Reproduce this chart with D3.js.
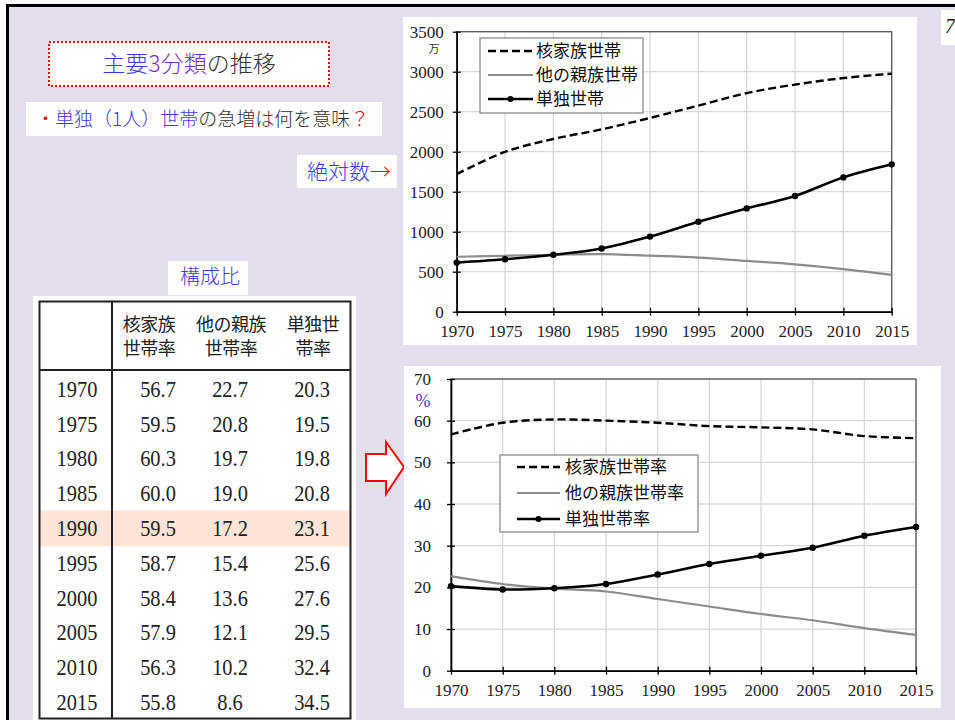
<!DOCTYPE html>
<html>
<head>
<meta charset="utf-8">
<script src="https://cdn.jsdelivr.net/npm/d3@7"></script>
<style>
  body { margin: 0; background: #fff; }
  svg text { font-family: "Noto Sans CJK JP", sans-serif; }
  svg text.num { font-family: "Liberation Serif", serif; }
</style>
</head>
<body>
<svg id="slide" width="955" height="720"></svg>
<script>
// data (万世帯 and %)
var years = [1970, 1975, 1980, 1985, 1990, 1995, 2000, 2005, 2010, 2015];
var nuclearAbs = [1719, 1998, 2159, 2280, 2422, 2576, 2733, 2839, 2921, 2975];
var otherAbs   = [687, 699, 712, 720, 700, 677, 635, 592, 533, 460];
var singleAbs  = [614, 656, 711, 790, 939, 1124, 1291, 1446, 1679, 1842];
var nuclearPct = [56.7, 59.5, 60.3, 60.0, 59.5, 58.7, 58.4, 57.9, 56.3, 55.8];
var otherPct   = [22.7, 20.8, 19.7, 19.0, 17.2, 15.4, 13.6, 12.1, 10.2, 8.6];
var singlePct  = [20.3, 19.5, 19.8, 20.8, 23.1, 25.6, 27.6, 29.5, 32.4, 34.5];
var absTicks = [0, 500, 1000, 1500, 2000, 2500, 3000, 3500];
var pctTicks = [0, 10, 20, 30, 40, 50, 60, 70];
var absNames = ["核家族世帯", "他の親族世帯", "単独世帯"];
var pctNames = ["核家族世帯率", "他の親族世帯率", "単独世帯率"];
var tableHeads = [["核家族", "世帯率"], ["他の親族", "世帯率"], ["単独世", "帯率"]];

var svg = d3.select("#slide");

// slide background + frame
svg.append("rect")
  .attr("x", 7.5).attr("y", 5.5)
  .attr("width", 960).attr("height", 730)
  .attr("fill", "#e4dfec")
  .attr("stroke", "#000")
  .attr("stroke-width", 3);

// page number (cut by the slide edge, as in the original)
svg.append("rect").attr("x", 941).attr("y", 10).attr("width", 20).attr("height", 35).attr("fill", "#fff");
svg.append("text").attr("class", "num")
  .attr("x", 945).attr("y", 33)
  .style("font-size", "20px").style("font-style", "italic").attr("fill", "#222")
  .text("7");

// title box
svg.append("rect")
  .attr("x", 49).attr("y", 42).attr("width", 280).attr("height", 44)
  .attr("fill", "#fff")
  .attr("stroke", "#ff0000").attr("stroke-width", 2)
  .attr("stroke-dasharray", "2,2");
var title = svg.append("text")
  .attr("x", 189).attr("y", 72)
  .style("text-anchor", "middle")
  .style("font-size", "23px")
  .style("font-weight", 300);
title.append("tspan").attr("fill", "#3b3bf5").text("主要");
title.append("tspan").attr("fill", "#7b2fd3").text("3分類");
title.append("tspan").attr("fill", "#333").text("の推移");

// question line
svg.append("rect").attr("x", 26).attr("y", 102).attr("width", 356).attr("height", 34).attr("fill", "#fff");
var q = svg.append("text")
  .attr("x", 36).attr("y", 126)
  .style("font-size", "19px")
  .style("font-weight", 300);
q.append("tspan").attr("fill", "#ff0000").text("・");
q.append("tspan").attr("fill", "#3b3bf5").text("単独（1人）世帯");
q.append("tspan").attr("fill", "#333").text("の急増は何を意味");
q.append("tspan").attr("fill", "#ff0000").text("？");

// 絶対数→
svg.append("rect").attr("x", 297).attr("y", 155).attr("width", 100).attr("height", 33).attr("fill", "#fff");
var abs = svg.append("text")
  .attr("x", 307).attr("y", 179)
  .style("font-size", "21px")
  .style("font-weight", 300);
abs.append("tspan").attr("fill", "#3b3bf5").text("絶対数");
abs.append("tspan").attr("fill", "#ff0000").text("→");

// red block arrow
svg.append("path")
  .attr("d", "M366,454 L386,454 L386,442 L404,467 L386,494 L386,481 L366,481 Z")
  .attr("fill", "#fff")
  .attr("stroke", "#ff0000")
  .attr("stroke-width", 2)
  .attr("stroke-linejoin", "miter");

// ---- line charts ----
function drawChart(cfg) {
  var g = svg.append("g");

  g.append("rect")
    .attr("x", cfg.box[0]).attr("y", cfg.box[1])
    .attr("width", cfg.box[2] - cfg.box[0]).attr("height", cfg.box[3] - cfg.box[1])
    .attr("fill", "#fff");

  var x = d3.scalePoint().domain(years).range([cfg.left, cfg.right]);
  var y = d3.scaleLinear().domain([0, cfg.ticks[cfg.ticks.length - 1]]).range([cfg.bottom, cfg.top]);

  // grid
  g.append("g").selectAll("line").data(cfg.ticks).enter().append("line")
    .attr("x1", cfg.left).attr("x2", cfg.right)
    .attr("y1", function(d) { return y(d); }).attr("y2", function(d) { return y(d); })
    .attr("stroke", "#d9d9d9").attr("stroke-width", 1.3);
  g.append("g").selectAll("line").data(years).enter().append("line")
    .attr("y1", cfg.top).attr("y2", cfg.bottom)
    .attr("x1", function(d) { return x(d); }).attr("x2", function(d) { return x(d); })
    .attr("stroke", "#d9d9d9").attr("stroke-width", 1.3);

  // plot border
  g.append("rect")
    .attr("x", cfg.left).attr("y", cfg.top)
    .attr("width", cfg.right - cfg.left).attr("height", cfg.bottom - cfg.top)
    .attr("fill", "none").attr("stroke", "#595959").attr("stroke-width", 1.3);

  // axes
  var xAxis = g.append("g")
    .attr("transform", "translate(0," + cfg.bottom + ")")
    .call(d3.axisBottom(x).tickSize(4).tickPadding(cfg.xPad).tickSizeOuter(0));
  var yAxis = g.append("g")
    .attr("transform", "translate(" + cfg.left + ",0)")
    .call(d3.axisLeft(y).tickValues(cfg.ticks).tickFormat(d3.format("d"))
      .tickSize(4).tickPadding(cfg.yPad).tickSizeOuter(0));
  [xAxis, yAxis].forEach(function(a) {
    a.select(".domain").attr("stroke", "#000").attr("stroke-width", 1.6);
    a.selectAll("text").attr("class", "num").style("font-size", "17px").attr("fill", "#222");
  });
  xAxis.selectAll(".tick line").attr("y1", -4).attr("y2", 4).attr("stroke-width", 1.3);
  yAxis.selectAll(".tick line").attr("x1", 4).attr("x2", -4).attr("stroke-width", 1.3);

  // unit label
  g.append("text")
    .attr("x", cfg.unit[0]).attr("y", cfg.unit[1])
    .attr("class", cfg.unitClass)
    .style("text-anchor", "middle")
    .style("font-size", cfg.unitSize)
    .attr("fill", cfg.unitColor)
    .text(cfg.unit[2]);

  var line = d3.line()
    .x(function(d, i) { return x(years[i]); })
    .y(function(d) { return y(d); })
    .curve(d3.curveCatmullRom.alpha(0));

  g.append("path").datum(cfg.other).attr("d", line)
    .attr("fill", "none").attr("stroke", "#8c8c8c").attr("stroke-width", 2.2);
  g.append("path").datum(cfg.nuclear).attr("d", line)
    .attr("fill", "none").attr("stroke", "#000").attr("stroke-width", 2.4)
    .attr("stroke-dasharray", "8,4");
  g.append("path").datum(cfg.single).attr("d", line)
    .attr("fill", "none").attr("stroke", "#000").attr("stroke-width", 2.6);
  g.append("g").selectAll("circle").data(cfg.single).enter().append("circle")
    .attr("cx", function(d, i) { return x(years[i]); })
    .attr("cy", function(d) { return y(d); })
    .attr("r", 3.2).attr("fill", "#000");

  // legend
  var lb = cfg.legend;
  g.append("rect")
    .attr("x", lb.x0).attr("y", lb.y0)
    .attr("width", lb.x1 - lb.x0).attr("height", lb.y1 - lb.y0)
    .attr("fill", "#fff").attr("stroke", "#8c8c8c").attr("stroke-width", 1.3);
  var styles = [
    { stroke: "#000", w: 2.4, dash: "8,4", dot: false },
    { stroke: "#8c8c8c", w: 2.2, dash: null, dot: false },
    { stroke: "#000", w: 2.6, dash: null, dot: true }
  ];
  cfg.names.forEach(function(name, i) {
    var yy = lb.rows[i];
    g.append("line")
      .attr("x1", lb.lx0).attr("x2", lb.lx1).attr("y1", yy).attr("y2", yy)
      .attr("stroke", styles[i].stroke).attr("stroke-width", styles[i].w)
      .attr("stroke-dasharray", styles[i].dash);
    if (styles[i].dot) {
      g.append("circle").attr("cx", (lb.lx0 + lb.lx1) / 2).attr("cy", yy).attr("r", 3).attr("fill", "#000");
    }
    g.append("text")
      .attr("x", lb.tx).attr("y", yy)
      .attr("dy", "0.36em")
      .style("font-size", "17px")
      .attr("fill", "#111")
      .text(name);
  });
}

drawChart({
  box: [403, 17, 917, 345],
  left: 456.7, right: 891.7, top: 31.7, bottom: 311.7,
  ticks: absTicks, xPad: 9, yPad: 9,
  nuclear: nuclearAbs, other: otherAbs, single: singleAbs,
  names: absNames,
  unit: [434, 53, "万"], unitSize: "11px", unitColor: "#333", unitClass: "",
  legend: { x0: 480, y0: 38, x1: 643, y1: 113, rows: [51, 75, 99], lx0: 488, lx1: 533, tx: 536 }
});

drawChart({
  box: [404, 366, 941, 708],
  left: 451, right: 916, top: 379, bottom: 670.7,
  ticks: pctTicks, xPad: 9, yPad: 16,
  nuclear: nuclearPct, other: otherPct, single: singlePct,
  names: pctNames,
  unit: [423, 407, "%"], unitSize: "18px", unitColor: "#3b3bf5", unitClass: "num",
  legend: { x0: 500, y0: 455, x1: 698, y1: 532, rows: [467, 493, 519], lx0: 517, lx1: 560, tx: 565 }
});

// ---- table ----
svg.append("rect").attr("x", 168).attr("y", 261).attr("width", 80).attr("height", 34).attr("fill", "#fff");
svg.append("text")
  .attr("x", 210).attr("y", 277).attr("dy", "0.36em")
  .style("text-anchor", "middle").style("font-size", "20px")
  .style("font-weight", 300)
  .attr("fill", "#3b3bf5")
  .text("構成比");

svg.append("rect").attr("x", 33).attr("y", 296).attr("width", 323).attr("height", 430).attr("fill", "#fff");

var rowY = d3.scaleLinear().domain([0, 1]).range([388.7, 423.5]);
var colX = [77, 158, 230, 312];
var headX = [149, 231, 313];

// highlighted 1990 row
var hi = years.indexOf(1990);
svg.append("rect")
  .attr("x", 40).attr("y", rowY(hi) - 17.5)
  .attr("width", 311).attr("height", 36)
  .attr("fill", "#fce4d6");

svg.append("rect")
  .attr("x", 39.5).attr("y", 301.5).attr("width", 311).attr("height", 417)
  .attr("fill", "none").attr("stroke", "#222").attr("stroke-width", 2);
svg.append("line").attr("x1", 39.5).attr("x2", 350.5).attr("y1", 370).attr("y2", 370)
  .attr("stroke", "#222").attr("stroke-width", 2);
svg.append("line").attr("x1", 112).attr("x2", 112).attr("y1", 301.5).attr("y2", 718.5)
  .attr("stroke", "#222").attr("stroke-width", 2);

tableHeads.forEach(function(h, i) {
  h.forEach(function(s, j) {
    svg.append("text")
      .attr("x", headX[i]).attr("y", 325 + j * 24).attr("dy", "0.36em")
      .style("text-anchor", "middle").style("font-size", "18px")
      .style("letter-spacing", "-0.5px")
      .attr("fill", "#222")
      .text(s);
  });
});

var cols = [years, nuclearPct, otherPct, singlePct];
cols.forEach(function(col, c) {
  col.forEach(function(v, i) {
    svg.append("text")
      .attr("class", "num")
      .attr("transform", "translate(" + colX[c] + "," + rowY(i) + ") scale(0.85,1)")
      .attr("dy", "0.34em")
      .style("text-anchor", "middle").style("font-size", "24px")
      .attr("fill", "#222")
      .text(c === 0 ? v : v.toFixed(1));
  });
});
</script>
</body>
</html>
